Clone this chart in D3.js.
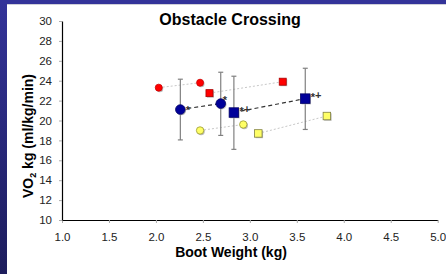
<!DOCTYPE html>
<html>
<head>
<meta charset="utf-8">
<script src="https://cdn.jsdelivr.net/npm/d3@7"></script>
<style>
  body { margin: 0; background: #fff; }
  svg { display: block; font-family: "Liberation Sans", Arial, sans-serif; }
</style>
</head>
<body>
<div id="chart"></div>
<script>
// series values: [boot weight, VO2]
const redCircles = [[2.03, 23.3], [2.47, 23.8]]
const redSquares = [[2.57, 22.75], [3.35, 23.9]]
const navyCircles = [[2.26, 21.1], [2.69, 21.7]]
const navySquares = [[2.83, 20.8], [3.59, 22.2]]
const yellowCircles = [[2.47, 19.0], [2.93, 19.6]]
const yellowSquares = [[3.09, 18.7], [3.82, 20.45]]
// error bars for navy points: [x, mean, lo, hi]
const errBars = [[2.26, 21.1, 18.05, 24.15], [2.69, 21.7, 18.5, 24.85], [2.83, 20.8, 17.1, 24.45], [3.59, 22.2, 19.1, 25.25]]
const notes = [[2.26, 21.1, "*"], [2.69, 21.7, "*"], [2.83, 20.8, "*+"], [3.59, 22.2, "*+"]]
const xTicks = [1.0, 1.5, 2.0, 2.5, 3.0, 3.5, 4.0, 4.5, 5.0]
const yTicks = [10, 12, 14, 16, 18, 20, 22, 24, 26, 28, 30]

const W = 446, H = 274
const svg = d3.select("#chart").append("svg").attr("width", W).attr("height", H)

// frame: navy strip on left and top
const grad = svg.append("defs").append("linearGradient")
  .attr("id", "band").attr("x1", 0).attr("y1", 0).attr("x2", 0).attr("y2", 1)
grad.append("stop").attr("offset", "0%").attr("stop-color", "#333399")
grad.append("stop").attr("offset", "100%").attr("stop-color", "#1d1d5c")
svg.append("rect").attr("x", 0).attr("y", 0).attr("width", 7).attr("height", H).attr("fill", "url(#band)")
svg.append("rect").attr("x", 0).attr("y", 0).attr("width", W).attr("height", 4).attr("fill", "#333399")
svg.append("rect").attr("x", 7).attr("y", 4).attr("width", W - 7).attr("height", 1).attr("fill", "#cfcfd8")

const x = d3.scaleLinear().domain([1, 5]).range([62, 437.7])
const y = d3.scaleLinear().domain([10, 30]).range([220, 21])

// axes
const xAxis = svg.append("g").attr("transform", `translate(0,${y(10)})`)
  .call(d3.axisBottom(x).tickValues(xTicks).tickFormat(d3.format(".1f")).tickSize(3).tickSizeOuter(0))
const yAxis = svg.append("g").attr("transform", `translate(${x(1)},0)`)
  .call(d3.axisLeft(y).tickValues(yTicks).tickSize(3).tickSizeOuter(0))
;[xAxis, yAxis].forEach(a => {
  a.select(".domain").attr("stroke", "#000").attr("stroke-width", 1.2)
  a.selectAll(".tick line").attr("stroke", "#aaa")
  a.selectAll(".tick text").attr("fill", "#222").attr("font-size", "11.5px")
    .attr("font-family", "Liberation Sans, Arial, sans-serif")
})
xAxis.selectAll(".tick text").attr("dy", "0").attr("y", 21)
yAxis.selectAll(".tick text").attr("x", -10)

// titles
svg.append("text").attr("x", 230).attr("y", 25).attr("text-anchor", "middle")
  .attr("font-size", "16px").attr("font-weight", "bold").text("Obstacle Crossing")
svg.append("text").attr("x", 231).attr("y", 257).attr("text-anchor", "middle")
  .attr("font-size", "14px").attr("font-weight", "bold").text("Boot Weight (kg)")
const yl = svg.append("text").attr("transform", "translate(33,136) rotate(-90)")
  .attr("text-anchor", "middle").attr("font-size", "14px").attr("font-weight", "bold")
yl.append("tspan").text("VO")
yl.append("tspan").attr("font-size", "9px").attr("dy", 3).text("2")
yl.append("tspan").attr("dy", -3).text(" kg (ml/kg/min)")

// connecting lines
const line = d3.line().x(d => x(d[0])).y(d => y(d[1]))
;[redCircles, redSquares, yellowCircles, yellowSquares].forEach(s => {
  svg.append("path").attr("d", line(s)).attr("fill", "none")
    .attr("stroke", "#c8c8c8").attr("stroke-width", 1).attr("stroke-dasharray", "2,2")
})
;[navyCircles, navySquares].forEach(s => {
  svg.append("path").attr("d", line(s)).attr("fill", "none")
    .attr("stroke", "#333").attr("stroke-width", 1.2).attr("stroke-dasharray", "4,3")
})

// error bars
const eb = svg.append("g").attr("stroke", "#808080").attr("stroke-width", 1.2)
errBars.forEach(d => {
  eb.append("line").attr("x1", x(d[0])).attr("x2", x(d[0])).attr("y1", y(d[2])).attr("y2", y(d[3]))
  ;[d[2], d[3]].forEach(v => eb.append("line")
    .attr("x1", x(d[0]) - 2.5).attr("x2", x(d[0]) + 2.5).attr("y1", y(v)).attr("y2", y(v)))
})

// markers
function circles(data, r, fill, stroke) {
  svg.append("g").selectAll("circle").data(data).enter().append("circle")
    .attr("cx", d => x(d[0]) + 1).attr("cy", d => y(d[1]) + 1).attr("r", r).attr("fill", "#bbb")
  svg.append("g").selectAll("circle").data(data).enter().append("circle")
    .attr("cx", d => x(d[0])).attr("cy", d => y(d[1])).attr("r", r)
    .attr("fill", fill).attr("stroke", stroke).attr("stroke-width", 0.8)
}
function squares(data, s, fill, stroke) {
  svg.append("g").selectAll("rect").data(data).enter().append("rect")
    .attr("x", d => x(d[0]) - s / 2 + 1).attr("y", d => y(d[1]) - s / 2 + 1)
    .attr("width", s).attr("height", s).attr("fill", "#bbb")
  svg.append("g").selectAll("rect").data(data).enter().append("rect")
    .attr("x", d => x(d[0]) - s / 2).attr("y", d => y(d[1]) - s / 2)
    .attr("width", s).attr("height", s)
    .attr("fill", fill).attr("stroke", stroke).attr("stroke-width", 0.8)
}
circles(redCircles, 3.5, "#ff0000", "#cc0000")
squares(redSquares, 7, "#ff0000", "#aa0000")
circles(yellowCircles, 3.7, "#ffff66", "#999933")
squares(yellowSquares, 7.5, "#ffff66", "#808040")
circles(navyCircles, 4.8, "#000099", "#000066")
squares(navySquares, 9.5, "#000099", "#000066")

// significance marks: second circle's star sits above-right, the rest beside
const marks = svg.append("g").selectAll("text").data(notes).enter().append("text")
  .attr("x", (d, i) => x(d[0]) + (i === 1 ? 2 : 5.5))
  .attr("y", (d, i) => y(d[1]) + (i === 1 ? 0 : (d[2] === "*" ? 4 : 2.5)))
  .attr("font-size", "11px").attr("font-weight", "bold").attr("fill", "#333")
marks.append("tspan").text("*")
marks.filter(d => d[2].length > 1).append("tspan").attr("dy", -2.5).text("+")
</script>
</body>
</html>
